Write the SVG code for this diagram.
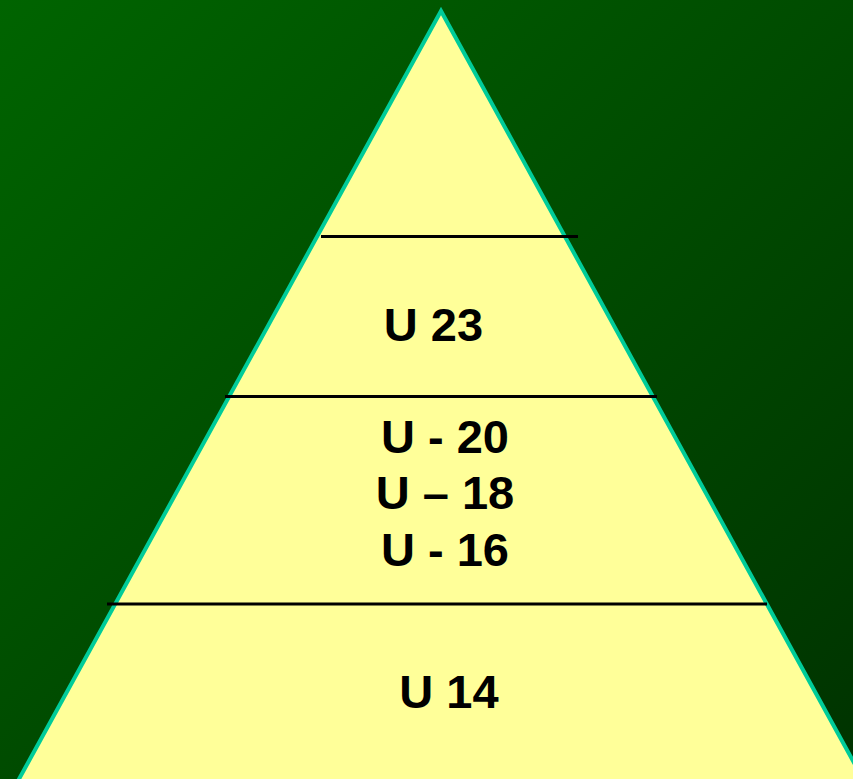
<svg xmlns="http://www.w3.org/2000/svg" width="853" height="779" viewBox="0 0 853 779">
<defs>
<linearGradient id="bg" x1="0" y1="0" x2="1" y2="1">
<stop offset="0" stop-color="#006400"/>
<stop offset="1" stop-color="#003300"/>
</linearGradient>
<style>
.lbl{font-family:"Liberation Sans",Arial,sans-serif;font-weight:bold;font-size:47px;fill:#000;text-anchor:middle}
.div{stroke:#000;stroke-width:3}
</style>
</defs>
<rect width="853" height="779" fill="url(#bg)"/>
<g id="pyramid">
<polygon points="441,11 13,790 869,790" fill="#FFFF99" stroke="#00CC99" stroke-width="4" stroke-linejoin="miter"/>
</g>
<g id="connectors">
<line class="div" x1="321" y1="236.5" x2="578" y2="236.5"/>
<line class="div" x1="225" y1="396.5" x2="657" y2="396.5"/>
<line class="div" x1="107" y1="604" x2="767" y2="604"/>
</g>
<g id="level-u23"><text class="lbl" x="433.5" y="341">U 23</text></g>
<g id="level-u20"><text class="lbl" x="445" y="453">U - 20</text></g>
<g id="level-u18"><text class="lbl" x="445" y="509">U – 18</text></g>
<g id="level-u16"><text class="lbl" x="445" y="566">U - 16</text></g>
<g id="level-u14"><text class="lbl" x="449" y="708">U 14</text></g>
</svg>
